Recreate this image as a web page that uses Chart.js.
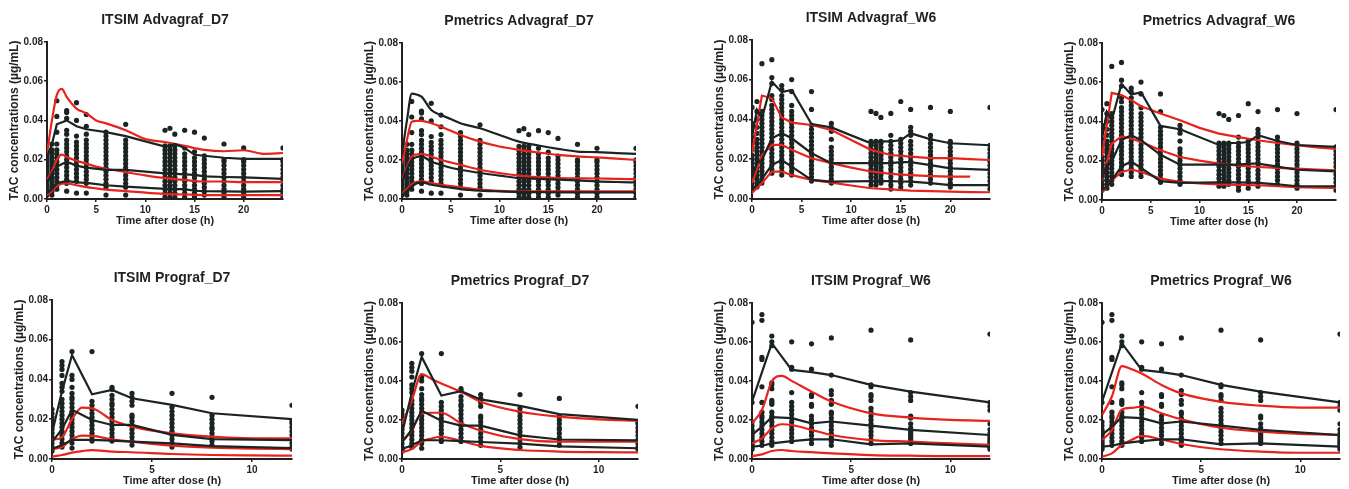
<!DOCTYPE html>
<html>
<head>
<meta charset="utf-8">
<script src="https://cdn.jsdelivr.net/npm/chart.js@4.4.0/dist/chart.umd.min.js"></script>
<style>
  body { margin: 0; background: #fff; width: 1349px; height: 489px; position: relative; overflow: hidden; }
  canvas { position: absolute; }
</style>
</head>
<body>
<script>
// ---- tick labels ----
const xTicks24 = [0, 5, 10, 15, 20];
const xTicks12 = [0, 5, 10];
const yTicks = [0, 0.02, 0.04, 0.06, 0.08];

// ---- observed concentrations (µg/mL), one list per sampling time ----
const advD7Times = [0, 0.5, 1, 2, 3, 4, 6, 8, 12, 12.5, 13, 14, 15, 16, 18, 20, 24];
const advD7Obs = [
  [.002, .004, .005, .007, .009, .011, .012, .014, .016, .018, .020, .022, .024],
  [.002, .004, .006, .008, .010, .011, .013, .015, .017, .019, .021, .023, .025, .028],
  [.005, .007, .009, .011, .013, .015, .017, .019, .021, .023, .025, .028, .034, .042, .050],
  [.004, .008, .010, .012, .014, .016, .018, .020, .022, .024, .026, .028, .030, .033, .035, .041, .044, .045],
  [.003, .009, .011, .013, .015, .017, .019, .021, .023, .025, .027, .029, .032, .040, .049],
  [.003, .008, .010, .012, .014, .016, .018, .020, .022, .024, .026, .028, .030, .033, .037, .043],
  [.002, .006, .008, .010, .012, .014, .016, .018, .020, .022, .024, .026, .028, .030, .032, .034],
  [.002, .006, .008, .010, .012, .014, .016, .018, .020, .022, .024, .026, .028, .030, .038],
  [.001, .003, .005, .007, .009, .011, .013, .015, .017, .019, .021, .023, .025, .027, .035],
  [.001, .003, .005, .007, .009, .011, .013, .015, .017, .019, .021, .023, .025, .027, .036],
  [.001, .003, .005, .007, .009, .011, .013, .015, .017, .019, .021, .023, .025, .027, .033],
  [.001, .003, .005, .007, .009, .011, .013, .015, .017, .019, .021, .023, .026, .035],
  [.001, .003, .005, .007, .009, .011, .013, .015, .017, .019, .021, .024, .034],
  [.002, .004, .006, .008, .010, .012, .014, .016, .018, .020, .022, .031],
  [.001, .003, .005, .007, .009, .011, .013, .015, .017, .019, .020, .028],
  [.001, .003, .005, .007, .009, .011, .013, .015, .017, .019, .020, .026],
  [.001, .003, .005, .007, .009, .011, .013, .015, .017, .019, .020, .026]
];

const advW6Times = [0, 0.5, 1, 2, 3, 4, 6, 8, 12, 12.5, 13, 14, 15, 16, 18, 20, 24];
const advW6Obs = [
  [.005, .006, .008, .010, .012, .014, .016, .018, .020, .022, .025, .028, .031, .038, .046],
  [.006, .008, .010, .012, .014, .016, .018, .020, .022, .024, .026, .028, .030, .033, .036, .040, .044, .049],
  [.008, .010, .012, .014, .016, .018, .020, .022, .024, .026, .028, .030, .032, .034, .036, .038, .040, .042, .044, .068],
  [.013, .015, .017, .019, .021, .023, .025, .027, .029, .031, .033, .035, .037, .039, .041, .043, .045, .047, .050, .052, .058, .061, .070],
  [.012, .014, .016, .018, .020, .022, .024, .026, .028, .030, .032, .034, .036, .038, .040, .042, .044, .046, .048, .050, .052, .055, .057],
  [.012, .014, .016, .018, .020, .022, .024, .026, .028, .030, .032, .034, .036, .038, .040, .042, .044, .047, .054, .060],
  [.009, .011, .013, .015, .017, .019, .021, .023, .025, .027, .029, .031, .033, .035, .037, .045, .054],
  [.008, .010, .012, .014, .016, .018, .020, .022, .024, .026, .030, .034, .036, .038],
  [.007, .009, .011, .013, .015, .017, .019, .021, .023, .025, .027, .029, .044],
  [.007, .009, .011, .013, .015, .017, .019, .021, .023, .025, .027, .029, .043],
  [.008, .010, .012, .014, .016, .018, .020, .022, .024, .026, .028, .029, .041],
  [.005, .007, .009, .011, .013, .015, .017, .019, .021, .023, .025, .027, .029, .032, .043],
  [.006, .008, .010, .012, .014, .016, .018, .020, .022, .024, .026, .028, .030, .049],
  [.007, .009, .011, .013, .015, .017, .019, .021, .023, .025, .027, .029, .032, .034, .036, .045],
  [.008, .010, .012, .014, .016, .018, .020, .022, .024, .026, .028, .030, .032, .046],
  [.006, .008, .010, .012, .014, .016, .018, .020, .022, .024, .026, .028, .029, .044],
  [.005, .007, .009, .011, .013, .015, .017, .019, .021, .023, .025, .027, .046]
];

const progTimes = [0, 0.5, 1, 2, 3, 4, 6, 8, 12];
const progD7Obs = [
  [.004, .005, .006, .008, .010, .011, .013, .015, .017, .019, .021, .023, .025],
  [.006, .008, .010, .012, .014, .016, .018, .020, .022, .024, .026, .028, .030, .034, .036, .038, .042, .045, .047, .049],
  [.0055, .008, .010, .012, .014, .016, .018, .020, .022, .024, .026, .028, .030, .031, .033, .036, .040, .042, .054],
  [.009, .011, .013, .015, .017, .019, .021, .023, .025, .027, .029, .054],
  [.009, .011, .013, .015, .017, .019, .021, .023, .025, .027, .028, .030, .032, .035, .036],
  [.007, .009, .011, .013, .015, .017, .019, .021, .022, .027, .029, .031, .033],
  [.006, .008, .010, .012, .014, .016, .018, .020, .022, .024, .026, .033],
  [.007, .009, .011, .013, .015, .016, .018, .020, .022, .031],
  [.005, .006, .008, .010, .012, .014, .016, .018, .019, .027]
];
const progW6Obs = [
  [.005, .006, .007, .008, .009, .010, .011, .012, .013, .014, .015, .017, .019, .029, .070],
  [.007, .009, .011, .013, .015, .017, .019, .021, .022, .024, .029, .037, .051, .052, .071, .074],
  [.007, .009, .011, .013, .015, .017, .019, .021, .022, .024, .028, .029, .030, .036, .038, .039, .058, .060, .063],
  [.009, .011, .013, .015, .017, .019, .021, .023, .025, .027, .029, .034, .046, .047, .060],
  [.008, .010, .012, .014, .016, .018, .020, .022, .027, .028, .032, .033, .046, .059],
  [.007, .009, .011, .013, .015, .017, .019, .021, .023, .024, .028, .030, .033, .035, .043, .062],
  [.008, .010, .012, .014, .016, .018, .020, .022, .024, .026, .030, .032, .033, .037, .038, .066],
  [.008, .009, .010, .011, .012, .013, .014, .015, .016, .018, .021, .022, .030, .032, .034, .061],
  [.005, .006, .007, .008, .009, .010, .011, .012, .013, .015, .018, .025, .027, .029, .064]
];

// ---- percentile curves ----
const predTimesD7 = [0, 0.5, 1, 1.5, 2, 3, 4, 5, 6, 8, 10, 12, 14, 16, 18, 20, 22, 24];
const predTimesW6 = [0, 1, 2, 3, 4, 6, 8, 10, 12, 14, 16, 18, 20, 22, 24];
const predTimesProg = [0, 0.5, 1, 1.5, 2, 3, 4, 6, 8, 10, 12];

// ITSIM Advagraf_D7
const p1BlackHi = [.021, .028, .038, .040, .037, .0355, .034, .032, .0267, .027, .028, .026, .0225, .022, .021, .0204, .0204];
const p1BlackMid = [.008, .013, .0165, .019, .017, .016, .0148, .0148, .013, .013, .0128, .0125, .0123, .0115, .0112, .011, .0102];
const p1BlackLo = [.003, .005, .008, .0092, .0085, .0082, .007, .0063, .0052, .0052, .005, .005, .0042, .004, .0039, .0038, .004];
const p1RedHi = [.023, .040, .053, .056, .052, .046, .0436, .040, .0385, .035, .0305, .029, .027, .025, .0243, .0248, .023, .0234];
const p1RedMid = [.010, .014, .020, .0226, .0214, .0195, .018, .0165, .0154, .0137, .012, .0106, .0097, .0089, .0089, .0086, .0086, .0086];
const p1RedLo = [.002, .004, .0065, .0078, .008, .007, .006, .0054, .0048, .004, .0032, .0026, .0023, .002, .002, .002, .002, .002];

// Pmetrics Advagraf_D7
const p2BlackHi = [.023, .040, .054, .0535, .0524, .0456, .043, .041, .0388, .0362, .0328, .0294, .0274, .0257, .0243, .024, .0235, .0231];
const p2BlackMid = [.009, .015, .020, .0215, .0218, .0192, .0175, .016, .015, .0133, .012, .0107, .0103, .0099, .0095, .009, .0087, .0085];
const p2BlackLo = [.002, .004, .0065, .008, .0085, .0073, .0065, .0058, .0051, .0043, .0039, .0036, .0035, .0034, .0034, .0034, .0034, .0034];
const p2RedHi = [.018, .030, .0396, .040, .040, .0388, .037, .035, .0328, .0294, .0269, .0252, .0238, .0226, .0218, .0213, .0207, .020];
const p2RedMid = [.010, .016, .0218, .0228, .0231, .0218, .020, .0187, .0175, .015, .0133, .012, .0112, .0107, .0106, .0105, .0103, .0102];
const p2RedLo = [.003, .005, .0075, .0088, .009, .0082, .0073, .0066, .006, .0048, .0042, .0039, .0039, .0039, .0039, .0039, .0039, .0039];

// Advagraf_W6 observed percentiles (both panels)
const w6BlackHi = [.031, .0448, .0406, .059, .0537, .0548, .0377, .036, .028, .0285, .029, .029, .0295, .033, .030, .028, .027];
const w6BlackMid = [.011, .018, .0196, .0305, .033, .0305, .023, .018, .018, .018, .018, .018, .0185, .0185, .017, .0154, .0146];
const w6BlackLo = [.005, .007, .010, .0171, .0196, .0163, .0096, .0087, .009, .009, .009, .009, .0088, .0087, .008, .007, .007];
// ITSIM Advagraf_W6
const p3RedHi = [.023, .052, .0506, .041, .0384, .0372, .0347, .0297, .0247, .0221, .0213, .0205, .0205, .020, .0196];
const p3RedMid = [.008, .022, .0272, .0272, .0247, .0205, .018, .0158, .0138, .0126, .012, .0115, .0112, .0112, null];
const p3RedLo = [.003, .008, .0138, .0138, .012, .0096, .0082, .0068, .0054, .0048, .0042, .004, .0037, .0035, .0034];
// Pmetrics Advagraf_W6
const p4RedHi = [.022, .0545, .0534, .0508, .0477, .044, .0406, .0367, .0338, .032, .0304, .029, .0279, .0268, .026];
const p4RedMid = [.010, .0287, .0324, .0313, .0296, .0253, .0219, .020, .0185, .0175, .0168, .0163, .016, .0155, .0151];
const p4RedLo = [.004, .010, .0143, .0155, .0143, .0109, .0092, .0085, .008, .0077, .0075, .007, .0066, .0063, .0061];

// Prograf_D7 observed percentiles
const d7pBlackHi = [.013, .034, .0523, .0325, .0347, .0305, .0272, .023, .020];
const d7pBlackMid = [.0085, .015, .0247, .0196, .0171, .0171, .0121, .010, .0095];
const d7pBlackLo = [.005, .007, .0096, .0096, .0092, .0087, .0079, .0065, .0055];
// ITSIM Prograf_D7
const p5RedHi = [.0096, .011, .020, .0258, .0255, .0196, .0163, .0129, .0112, .0104, .0104];
const p5RedMid = [.005, .006, .0099, .0117, .0116, .0099, .0087, .0067, .0057, .0052, .005];
const p5RedLo = [.0012, .002, .0032, .004, .0045, .0037, .0034, .0025, .002, .0018, .0017];
// Pmetrics Prograf_D7
const p6RedHi = [.018, .030, .0435, .041, .0387, .0345, .0293, .0242, .0217, .0203, .0196];
const p6RedMid = [.0089, .0148, .0234, .0237, .0237, .0183, .0145, .0102, .0089, .0089, .0089];
const p6RedLo = [.0034, .0051, .0089, .0105, .0114, .0092, .0067, .0046, .0038, .0035, .0034];

// Prograf_W6 observed percentiles
const w6pBlackHi = [.0294, .0444, .0593, .0456, .0445, .043, .038, .0345, .029];
const w6pBlackMid = [.0123, .0166, .0214, .0209, .0183, .0192, .0171, .0149, .0123];
const w6pBlackLo = [.0063, .0068, .008, .0092, .0101, .0101, .0075, .008, .0063];
// ITSIM Prograf_W6
const p7RedHi = [.0183, .0251, .0397, .0426, .040, .0345, .0294, .0234, .0212, .020, .0195];
const p7RedMid = [.008, .0106, .0157, .0178, .0174, .0149, .0123, .0097, .0089, .008, .0072];
const p7RedLo = [.0015, .0024, .0041, .0046, .0041, .0035, .0029, .002, .0017, .0015, .0015];
// Pmetrics Prograf_W6
const p8RedHi = [.0225, .032, .0476, .046, .0438, .0379, .0336, .0293, .0273, .0263, .0263];
const p8RedMid = [.0097, .0148, .0254, .0262, .0268, .0234, .0203, .016, .014, .0128, .0123];
const p8RedLo = [.0012, .0029, .0072, .0098, .0118, .010, .0077, .005, .0038, .0032, .0032];

// ---- styling ----
const FONT = '"Liberation Sans", Arial, Helvetica, sans-serif';
const INK = '#231f20';
const DOT = '#1b2323';
const BLACK = '#1b2323';
const RED = '#e8231c';
const Y_AXIS_W = 47, X_AXIS_H = 31, TITLE_H = 42, RIGHT_PAD = 10;

const panels = [
  { title: 'ITSIM Advagraf_D7', box: [47, 42, 283, 199], xMax: 24, xTicks: xTicks24, obsT: advD7Times, obs: advD7Obs,
    lines: [[advD7Times, p1BlackHi, BLACK, false], [advD7Times, p1BlackMid, BLACK, false], [advD7Times, p1BlackLo, BLACK, false],
            [predTimesD7, p1RedHi, RED, true], [predTimesD7, p1RedMid, RED, true], [predTimesD7, p1RedLo, RED, true]] },
  { title: 'Pmetrics Advagraf_D7', box: [402, 43, 636, 199], xMax: 24, xTicks: xTicks24, obsT: advD7Times, obs: advD7Obs,
    lines: [[predTimesD7, p2BlackHi, BLACK, true], [predTimesD7, p2BlackMid, BLACK, true], [predTimesD7, p2BlackLo, BLACK, true],
            [predTimesD7, p2RedHi, RED, true], [predTimesD7, p2RedMid, RED, true], [predTimesD7, p2RedLo, RED, true]] },
  { title: 'ITSIM Advagraf_W6', box: [752, 40, 990, 199], xMax: 24, xTicks: xTicks24, obsT: advW6Times, obs: advW6Obs,
    lines: [[advW6Times, w6BlackHi, BLACK, false], [advW6Times, w6BlackMid, BLACK, false], [advW6Times, w6BlackLo, BLACK, false],
            [predTimesW6, p3RedHi, RED, false], [predTimesW6, p3RedMid, RED, false], [predTimesW6, p3RedLo, RED, false]] },
  { title: 'Pmetrics Advagraf_W6', box: [1102, 43, 1336, 200], xMax: 24, xTicks: xTicks24, obsT: advW6Times, obs: advW6Obs,
    lines: [[advW6Times, w6BlackHi, BLACK, false], [advW6Times, w6BlackMid, BLACK, false], [advW6Times, w6BlackLo, BLACK, false],
            [predTimesW6, p4RedHi, RED, false], [predTimesW6, p4RedMid, RED, false], [predTimesW6, p4RedLo, RED, false]] },
  { title: 'ITSIM Prograf_D7', box: [52, 300, 292, 459], xMax: 12, xTicks: xTicks12, obsT: progTimes, obs: progD7Obs,
    lines: [[progTimes, d7pBlackHi, BLACK, false], [progTimes, d7pBlackMid, BLACK, false], [progTimes, d7pBlackLo, BLACK, false],
            [predTimesProg, p5RedHi, RED, true], [predTimesProg, p5RedMid, RED, true], [predTimesProg, p5RedLo, RED, true]] },
  { title: 'Pmetrics Prograf_D7', box: [402, 303, 638, 459], xMax: 12, xTicks: xTicks12, obsT: progTimes, obs: progD7Obs,
    lines: [[progTimes, d7pBlackHi, BLACK, false], [progTimes, d7pBlackMid, BLACK, false], [progTimes, d7pBlackLo, BLACK, false],
            [predTimesProg, p6RedHi, RED, true], [predTimesProg, p6RedMid, RED, true], [predTimesProg, p6RedLo, RED, true]] },
  { title: 'ITSIM Prograf_W6', box: [752, 303, 990, 459], xMax: 12, xTicks: xTicks12, obsT: progTimes, obs: progW6Obs,
    lines: [[progTimes, w6pBlackHi, BLACK, false], [progTimes, w6pBlackMid, BLACK, false], [progTimes, w6pBlackLo, BLACK, false],
            [predTimesProg, p7RedHi, RED, true], [predTimesProg, p7RedMid, RED, true], [predTimesProg, p7RedLo, RED, true]] },
  { title: 'Pmetrics Prograf_W6', box: [1102, 303, 1340, 459], xMax: 12, xTicks: xTicks12, obsT: progTimes, obs: progW6Obs,
    lines: [[progTimes, w6pBlackHi, BLACK, false], [progTimes, w6pBlackMid, BLACK, false], [progTimes, w6pBlackLo, BLACK, false],
            [predTimesProg, p8RedHi, RED, true], [predTimesProg, p8RedMid, RED, true], [predTimesProg, p8RedLo, RED, true]] }
];

function toPoints(times, cols) {
  const out = [];
  times.forEach((t, i) => cols[i].forEach(v => out.push({ x: t, y: v })));
  return out;
}

function toLine(times, vals) {
  return times.map((t, i) => ({ x: t, y: vals[i] }));
}

panels.forEach(p => {
  const [x0, y0, x1, y1] = p.box;
  const cv = document.createElement('canvas');
  cv.width = Y_AXIS_W + (x1 - x0) + RIGHT_PAD;
  cv.height = TITLE_H + (y1 - y0) + X_AXIS_H;
  cv.style.left = (x0 - Y_AXIS_W) + 'px';
  cv.style.top = (y0 - TITLE_H) + 'px';
  document.body.appendChild(cv);

  const datasets = p.lines.map(([t, v, color, smooth]) => ({
    type: 'line',
    data: toLine(t, v),
    borderColor: color,
    borderWidth: 2.2,
    pointRadius: 0,
    fill: false,
    tension: 0,
    cubicInterpolationMode: smooth ? 'monotone' : 'default',
    spanGaps: false,
    order: 0
  }));
  datasets.push({
    type: 'scatter',
    data: toPoints(p.obsT, p.obs),
    backgroundColor: DOT,
    borderWidth: 0,
    pointRadius: 2.6,
    order: 1
  });

  const tickFont = { family: FONT, size: 10, weight: 'bold' };
  const titleFont = { family: FONT, size: 11, weight: 'bold' };

  new Chart(cv.getContext('2d'), {
    type: 'scatter',
    data: { datasets },
    options: {
      responsive: false,
      animation: false,
      layout: { padding: { left: 0, right: RIGHT_PAD, top: 0, bottom: 0 } },
      plugins: {
        legend: { display: false },
        tooltip: { enabled: false },
        title: {
          display: true,
          text: p.title,
          fullSize: false,
          color: INK,
          font: { family: FONT, size: 14, weight: 'bold' },
          padding: { top: 12, bottom: 13 }
        }
      },
      scales: {
        x: {
          type: 'linear',
          min: 0,
          max: p.xMax,
          afterFit: s => { s.height = X_AXIS_H; },
          afterBuildTicks: s => { s.ticks = p.xTicks.map(v => ({ value: v })); },
          grid: { display: true, drawOnChartArea: false, drawTicks: true, tickLength: 3, color: INK, lineWidth: 1.5 },
          border: { display: true, color: INK, width: 2 },
          ticks: { padding: 2, color: INK, font: tickFont, maxRotation: 0 },
          title: { display: true, text: 'Time after dose (h)', color: INK, font: titleFont, padding: { top: 0, bottom: 2 } }
        },
        y: {
          min: 0,
          max: 0.08,
          afterFit: s => { s.width = Y_AXIS_W; },
          afterBuildTicks: s => { s.ticks = yTicks.map(v => ({ value: v })); },
          grid: { display: true, drawOnChartArea: false, drawTicks: true, tickLength: 3, color: INK, lineWidth: 1.5 },
          border: { display: true, color: INK, width: 2 },
          ticks: { padding: 1, color: INK, font: tickFont, callback: v => v.toFixed(2) },
          title: { display: true, text: 'TAC concentrations (µg/mL)', color: INK, font: { family: FONT, size: 12, weight: 'bold' }, padding: { top: 7, bottom: 0 } }
        }
      }
    }
  });
});
</script>
</body>
</html>
